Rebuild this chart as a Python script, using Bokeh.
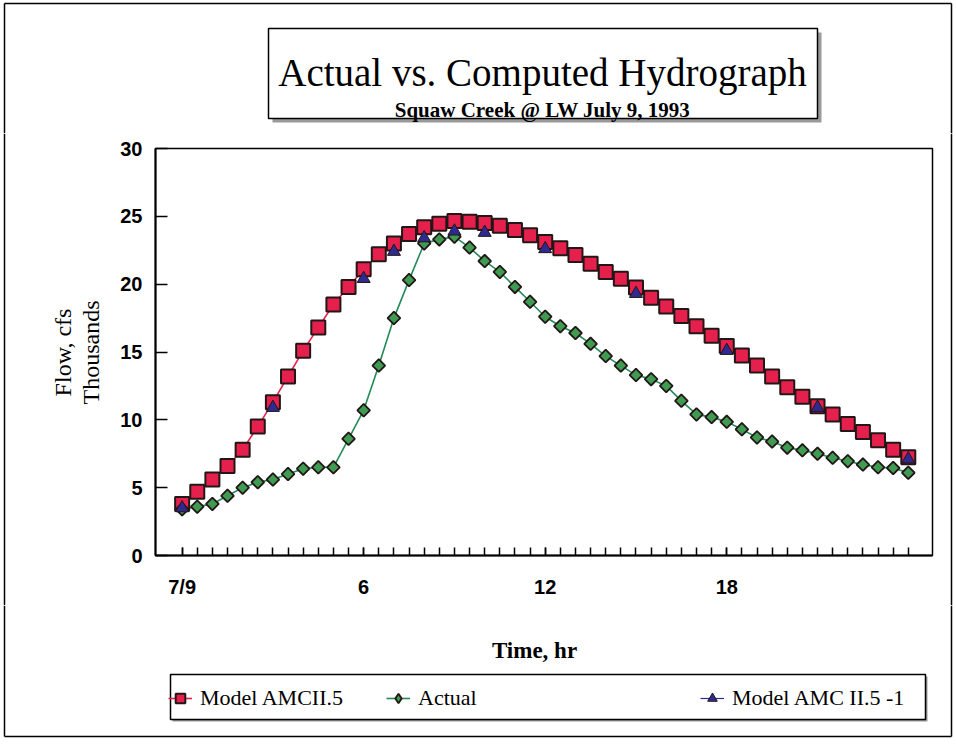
from bokeh.plotting import figure
from bokeh.models import Legend, LegendItem, FixedTicker, Range1d
from bokeh.layouts import column, row
from bokeh.core.properties import value
from bokeh.embed import file_html
from bokeh.resources import INLINE
import math

# ---------------- data ----------------
hours = [0, 0.5, 1, 1.5, 2, 2.5, 3, 3.5, 4, 4.5, 5, 5.5, 6, 6.5, 7, 7.5, 8, 8.5,
         9, 9.5, 10, 10.5, 11, 11.5, 12, 12.5, 13, 13.5, 14, 14.5, 15, 15.5, 16,
         16.5, 17, 17.5, 18, 18.5, 19, 19.5, 20, 20.5, 21, 21.5, 22, 22.5, 23,
         23.5, 24]
model_amc25 = [3.8, 4.7, 5.6, 6.6, 7.8, 9.5, 11.3, 13.2, 15.1, 16.8, 18.5, 19.8,
               21.1, 22.2, 23.0, 23.7, 24.2, 24.45, 24.65, 24.6, 24.5, 24.3, 24.0,
               23.6, 23.1, 22.65, 22.15, 21.5, 20.9, 20.4, 19.75, 19.0, 18.35,
               17.65, 16.9, 16.2, 15.45, 14.75, 14.0, 13.2, 12.4, 11.7, 11.0,
               10.4, 9.7, 9.1, 8.5, 7.8, 7.25]
actual = [3.4, 3.6, 3.8, 4.4, 5.0, 5.4, 5.6, 6.0, 6.4, 6.5, 6.5, 8.6, 10.7, 14.0,
          17.5, 20.3, 23.0, 23.3, 23.5, 22.7, 21.7, 20.9, 19.8, 18.7, 17.6, 16.9,
          16.4, 15.6, 14.7, 14.0, 13.3, 13.0, 12.5, 11.4, 10.4, 10.2, 9.85, 9.3,
          8.7, 8.4, 7.95, 7.75, 7.5, 7.2, 6.95, 6.7, 6.5, 6.45, 6.1]
hours_b = [0, 3, 6, 7, 8, 9, 10, 12, 15, 18, 21, 24]
model_amc25_m1 = [3.5, 10.9, 20.4, 22.4, 23.4, 23.9, 23.8, 22.6, 19.3, 15.1, 10.9, 7.1]

series_names = ["Model AMCII.5", "Actual", "Model AMC II.5 -1"]
x_major = [0, 6, 12, 18]
x_major_labels = ["7/9", "6", "12", "18"]
y_ticks = [0, 5, 10, 15, 20, 25, 30]

title_text = "Actual vs. Computed Hydrograph"
subtitle_text = "Squaw Creek @ LW July 9, 1993"
y_label_1 = "Flow, cfs"
y_label_2 = "Thousands"
x_label = "Time, hr"

RED = "#e6204c"
GREEN_FILL = "#3f9a52"
GREEN_LINE = "#238a58"
BLUE = "#2e2a90"
EDGE = "#231616"
SHADOW = "#9a9a9a"
SERIF = "Liberation Serif"
SANS = "Liberation Sans"
NAN = float("nan")

W, H = 956, 744
TOP_H = 133          # top strip height
MID_H = 472          # middle row height (frame 148..555 + axis space)
BOT_H = H - TOP_H - MID_H
LEFT_W = 108
RIGHT_W = 22
MAIN_W = W - LEFT_W - RIGHT_W
BX0, BX1, BY0, BY1 = 4, 951, 3, 736   # outer border (canvas px)


def panel(w, h):
    f = figure(width=w, height=h, x_range=Range1d(0, w), y_range=Range1d(h, 0),
               output_backend="svg", toolbar_location=None,
               x_axis_location=None, y_axis_location=None, min_border=0)
    f.grid.visible = False
    f.outline_line_color = None
    f.background_fill_color = "white"
    f.border_fill_color = "white"
    return f


def vline(f, x, y0, y1):
    f.segment(x0=[x], y0=[y0], x1=[x], y1=[y1], line_color="black", line_width=1.5)


def hline(f, y, x0, x1):
    f.segment(x0=[x0], y0=[y], x1=[x1], y1=[y], line_color="black", line_width=1.5)


# ---------------- top strip: title box ----------------
top = panel(W, TOP_H)
hline(top, BY0, BX0, BX1)
vline(top, BX0, BY0, TOP_H)
vline(top, BX1, BY0, TOP_H)
top.quad(left=[272], right=[821], top=[32], bottom=[122], fill_color=SHADOW,
         line_color=None)
top.quad(left=[268], right=[817], top=[28], bottom=[118], fill_color="white",
         line_color="black", line_width=1.5)
top.text(x=[542], y=[72], text=[title_text], text_font=value(SERIF),
         text_font_size="39px", text_align="center", text_baseline="alphabetic",
         text_color="black")
top.text(x=[542], y=[109], text=[subtitle_text], text_font=value(SERIF),
         text_font_size="21px", text_font_style="bold", text_align="center",
         text_baseline="alphabetic", text_color="black")

# ---------------- left strip: axis titles ----------------
left = panel(LEFT_W, MID_H)
vline(left, BX0, 0, MID_H)
left.text(x=[62, 90], y=[352 - TOP_H, 352 - TOP_H], text=[y_label_1, y_label_2],
          angle=math.pi / 2, text_font=value(SERIF), text_font_size="24px",
          text_align="center", text_baseline="middle", text_color="black")

# ---------------- right strip ----------------
right = panel(RIGHT_W, MID_H)
vline(right, BX1 - (LEFT_W + MAIN_W), 0, MID_H)

# ---------------- main chart ----------------
p = figure(width=MAIN_W, height=MID_H, x_range=Range1d(-0.88, 24.8),
           y_range=Range1d(0, 30), output_backend="svg", toolbar_location=None,
           min_border_left=155 - LEFT_W, min_border_right=2, min_border_top=15,
           min_border_bottom=50)
p.background_fill_color = "white"
p.border_fill_color = "white"
p.outline_line_color = "black"
p.outline_line_width = 1.5
p.xgrid.visible = False
p.ygrid.visible = False

xa = p.xaxis[0]
xa.ticker = FixedTicker(ticks=x_major, minor_ticks=hours)
xa.major_label_overrides = {t: l for t, l in zip(x_major, x_major_labels)}
xa.major_tick_in = 8
xa.major_tick_out = 0
xa.minor_tick_in = 8
xa.minor_tick_out = 0
xa.axis_line_width = 2
xa.major_tick_line_width = 1.5
xa.minor_tick_line_width = 1.5
xa.major_label_standoff = 20
xa.major_label_text_font = SANS
xa.major_label_text_font_style = "bold"
xa.major_label_text_font_size = "20px"
xa.major_label_text_color = "black"

ya = p.yaxis[0]
ya.ticker = FixedTicker(ticks=y_ticks)
ya.major_tick_in = 12
ya.major_tick_out = 0
ya.minor_tick_line_color = None
ya.axis_line_width = 2
ya.major_tick_line_width = 1.5
ya.major_label_standoff = 13
ya.major_label_text_font = SANS
ya.major_label_text_font_style = "bold"
ya.major_label_text_font_size = "20px"
ya.major_label_text_color = "black"

p.line(hours, model_amc25, line_color=RED, line_width=1.6)
p.line(hours, actual, line_color=GREEN_LINE, line_width=1.6)
p.scatter(hours, model_amc25, marker="square", size=14, fill_color=RED,
          line_color=EDGE, line_width=2)
p.scatter(hours, actual, marker="square", size=9, angle=math.pi / 4,
          fill_color=GREEN_FILL, line_color=EDGE, line_width=1.8)
p.scatter(hours_b, model_amc25_m1, marker="triangle", size=13,
          fill_color=BLUE, line_color=EDGE, line_width=1)

# ---------------- bottom strip: x title + legend ----------------
bot = panel(W, BOT_H)
oy = TOP_H + MID_H
vline(bot, BX0, 0, BY1 - oy)
vline(bot, BX1, 0, BY1 - oy)
hline(bot, BY1 - oy, BX0, BX1)
bot.text(x=[534], y=[650 - oy], text=[x_label], text_font=value(SERIF),
         text_font_size="23px", text_font_style="bold", text_align="center",
         text_baseline="alphabetic", text_color="black")
bot.quad(left=[172], right=[927], top=[676 - oy], bottom=[721 - oy],
         fill_color=SHADOW, line_color=None)
bot.quad(left=[170], right=[925], top=[674 - oy], bottom=[719 - oy],
         fill_color="white", line_color="black", line_width=1.5)

# legend-only renderers (a single NaN point, never drawn) carrying each style
lr1 = bot.line([NAN], [NAN], line_color=RED, line_width=1.6)
ls1 = bot.scatter([NAN], [NAN], marker="square", size=14, fill_color=RED,
                  line_color=EDGE, line_width=2)
lr2 = bot.line([NAN], [NAN], line_color=GREEN_LINE, line_width=1.6)
ls2 = bot.scatter([NAN], [NAN], marker="diamond", size=15,
                  fill_color=GREEN_FILL, line_color=EDGE, line_width=1.8)
lr3 = bot.line([NAN], [NAN], line_color=BLUE, line_width=1.2)
ls3 = bot.scatter([NAN], [NAN], marker="triangle", size=13, fill_color=BLUE,
                  line_color=EDGE, line_width=1)

legend_x = [168, 386, 700]
for name, rends, lx in zip(series_names, [[lr1, ls1], [lr2, ls2], [lr3, ls3]],
                           legend_x):
    lg = Legend(items=[LegendItem(label=name, renderers=rends)],
                location=(lx, BOT_H - (712 - oy)), orientation="horizontal",
                border_line_alpha=0, background_fill_alpha=0, padding=0,
                margin=0, glyph_width=24, glyph_height=28, label_standoff=8,
                label_text_font=SERIF, label_text_font_size="22px",
                label_text_color="black", label_height=28)
    bot.add_layout(lg)

layout = column(top, row(column(left), p, column(right), spacing=0), bot,
                spacing=0)
open("out.html", "w").write(file_html(layout, INLINE))
